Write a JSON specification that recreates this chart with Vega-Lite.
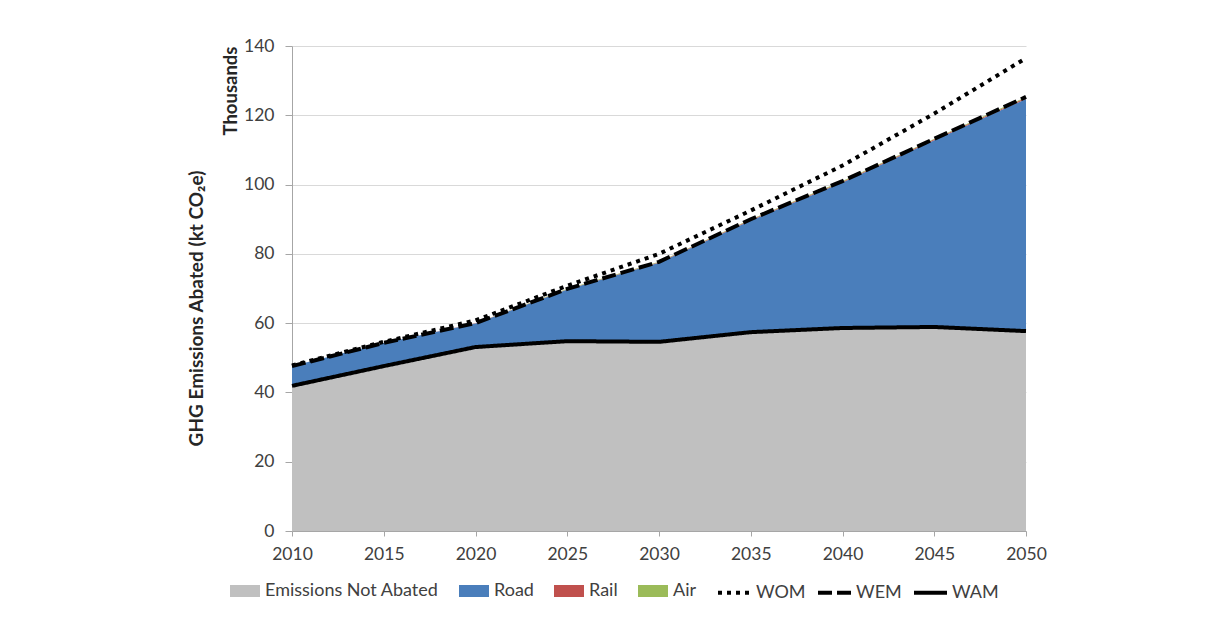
{
  "$schema": "https://vega.github.io/schema/vega-lite/v6.json",
  "width": 734,
  "height": 485,
  "padding": {"left": 186, "top": 37, "right": 10, "bottom": 5},
  "background": "white",
  "config": {
    "font": "Lato",
    "view": {"stroke": null},
    "axis": {"labelFont": "Lato", "labelFontSize": 17.5, "labelColor": "#404040", "titleFont": "Lato", "titleColor": "#262626"},
    "legend": {"labelFont": "Lato", "labelFontSize": 18, "labelColor": "#404040", "labelLimit": 0}
  },
  "datasets": {
    "areas": [
      {"year": 2010, "series": "Emissions Not Abated", "ord": 1, "value": 41.9},
      {"year": 2015, "series": "Emissions Not Abated", "ord": 1, "value": 47.6},
      {"year": 2020, "series": "Emissions Not Abated", "ord": 1, "value": 53.1},
      {"year": 2025, "series": "Emissions Not Abated", "ord": 1, "value": 54.8},
      {"year": 2030, "series": "Emissions Not Abated", "ord": 1, "value": 54.6},
      {"year": 2035, "series": "Emissions Not Abated", "ord": 1, "value": 57.4},
      {"year": 2040, "series": "Emissions Not Abated", "ord": 1, "value": 58.6},
      {"year": 2045, "series": "Emissions Not Abated", "ord": 1, "value": 58.9},
      {"year": 2050, "series": "Emissions Not Abated", "ord": 1, "value": 57.7},
      {"year": 2010, "series": "Road", "ord": 2, "value": 5.7},
      {"year": 2015, "series": "Road", "ord": 2, "value": 6.7},
      {"year": 2020, "series": "Road", "ord": 2, "value": 6.8},
      {"year": 2025, "series": "Road", "ord": 2, "value": 14.9},
      {"year": 2030, "series": "Road", "ord": 2, "value": 22.85},
      {"year": 2035, "series": "Road", "ord": 2, "value": 32.25},
      {"year": 2040, "series": "Road", "ord": 2, "value": 42.0},
      {"year": 2045, "series": "Road", "ord": 2, "value": 53.9},
      {"year": 2050, "series": "Road", "ord": 2, "value": 67.0},
      {"year": 2010, "series": "Rail", "ord": 3, "value": 0.0},
      {"year": 2015, "series": "Rail", "ord": 3, "value": 0.0},
      {"year": 2020, "series": "Rail", "ord": 3, "value": 0.05},
      {"year": 2025, "series": "Rail", "ord": 3, "value": 0.1},
      {"year": 2030, "series": "Rail", "ord": 3, "value": 0.15},
      {"year": 2035, "series": "Rail", "ord": 3, "value": 0.2},
      {"year": 2040, "series": "Rail", "ord": 3, "value": 0.25},
      {"year": 2045, "series": "Rail", "ord": 3, "value": 0.25},
      {"year": 2050, "series": "Rail", "ord": 3, "value": 0.35},
      {"year": 2010, "series": "Air", "ord": 4, "value": 0.0},
      {"year": 2015, "series": "Air", "ord": 4, "value": 0.0},
      {"year": 2020, "series": "Air", "ord": 4, "value": 0.05},
      {"year": 2025, "series": "Air", "ord": 4, "value": 0.1},
      {"year": 2030, "series": "Air", "ord": 4, "value": 0.1},
      {"year": 2035, "series": "Air", "ord": 4, "value": 0.15},
      {"year": 2040, "series": "Air", "ord": 4, "value": 0.15},
      {"year": 2045, "series": "Air", "ord": 4, "value": 0.15},
      {"year": 2050, "series": "Air", "ord": 4, "value": 0.25}
    ],
    "lines": [
      {"year": 2010, "series": "WOM", "value": 47.8},
      {"year": 2015, "series": "WOM", "value": 54.6},
      {"year": 2020, "series": "WOM", "value": 60.8},
      {"year": 2025, "series": "WOM", "value": 70.8},
      {"year": 2030, "series": "WOM", "value": 80.0},
      {"year": 2035, "series": "WOM", "value": 92.5},
      {"year": 2040, "series": "WOM", "value": 105.5},
      {"year": 2045, "series": "WOM", "value": 120.5},
      {"year": 2050, "series": "WOM", "value": 136.5},
      {"year": 2010, "series": "WEM", "value": 47.6},
      {"year": 2015, "series": "WEM", "value": 54.3},
      {"year": 2020, "series": "WEM", "value": 60.0},
      {"year": 2025, "series": "WEM", "value": 69.9},
      {"year": 2030, "series": "WEM", "value": 77.7},
      {"year": 2035, "series": "WEM", "value": 90.0},
      {"year": 2040, "series": "WEM", "value": 101.0},
      {"year": 2045, "series": "WEM", "value": 113.2},
      {"year": 2050, "series": "WEM", "value": 125.3},
      {"year": 2010, "series": "WAM", "value": 41.9},
      {"year": 2015, "series": "WAM", "value": 47.6},
      {"year": 2020, "series": "WAM", "value": 53.1},
      {"year": 2025, "series": "WAM", "value": 54.8},
      {"year": 2030, "series": "WAM", "value": 54.6},
      {"year": 2035, "series": "WAM", "value": 57.4},
      {"year": 2040, "series": "WAM", "value": 58.6},
      {"year": 2045, "series": "WAM", "value": 58.9},
      {"year": 2050, "series": "WAM", "value": 57.7}
    ]
  },
  "encoding": {
    "x": {
      "field": "year", "type": "quantitative",
      "scale": {"domain": [2010, 2050], "nice": false, "zero": false},
      "axis": {"values": [2010, 2015, 2020, 2025, 2030, 2035, 2040, 2045, 2050], "format": "d", "title": null, "grid": false, "labelFlush": false, "domainColor": "#a6a6a6", "tickColor": "#a6a6a6", "tickSize": 5, "labelPadding": 9}
    }
  },
  "layer": [
    {
      "data": {"name": "areas"},
      "mark": {"type": "area", "opacity": 1},
      "encoding": {
        "y": {
          "field": "value", "type": "quantitative", "stack": "zero",
          "scale": {"domain": [0, 140], "nice": false},
          "axis": {"orient": "left", "values": [0, 20, 40, 60, 80, 100, 120, 140], "title": "Thousands", "titleAnchor": "end", "titleFontSize": 18.5, "titleFontWeight": "bold", "titlePadding": 3, "gridColor": "#d9d9d9", "domainColor": "#a6a6a6", "tickColor": "#a6a6a6", "tickSize": 7, "labelPadding": 11}
        },
        "color": {
          "field": "series", "type": "nominal",
          "scale": {
            "domain": ["Emissions Not Abated", "Road", "Rail", "Air"],
            "range": ["#c0c0c0", "#4a7ebb", "#c0504d", "#9bbb59"]
          },
          "legend": {
            "title": null,
            "orient": "none",
            "legendX": -62,
            "legendY": 530,
            "direction": "horizontal",
            "columns": 4,
            "columnPadding": 20,
            "labelOffset": 5,
            "symbolSize": 900,
            "symbolType": "M-1,-0.4H1V0.4H-1Z",
            "symbolStrokeWidth": 0,
            "symbolOpacity": 1
          }
        },
        "order": {"field": "ord", "type": "quantitative"}
      }
    },
    {
      "data": {"name": "lines"},
      "mark": {"type": "line", "strokeWidth": 4, "strokeCap": "butt", "color": "#000000"},
      "encoding": {
        "y": {
          "field": "value", "type": "quantitative",
          "axis": {"orient": "left", "title": "GHG Emissions Abated (kt CO₂e)", "titleFontSize": 19, "titleFontWeight": "bold", "labels": false, "ticks": false, "domain": false, "grid": false, "titleX": -96, "titleY": 262, "titleBaseline": "middle"}
        },
        "detail": {"field": "series", "type": "nominal"},
        "strokeDash": {
          "field": "series", "type": "nominal",
          "scale": {"domain": ["WOM", "WEM", "WAM"], "range": [[4, 5], [14, 5], [1, 0]]},
          "legend": {
            "title": null,
            "orient": "none",
            "legendX": 424,
            "legendY": 528,
            "direction": "horizontal",
            "columns": 3,
            "columnPadding": 4,
            "labelOffset": 3,
            "symbolSize": 1089,
            "symbolType": "stroke",
            "symbolStrokeWidth": 4,
            "symbolStrokeColor": "#000000",
            "symbolFillColor": "transparent"
          }
        }
      }
    }
  ],
  "resolve": {"axis": {"y": "independent"}}
}
